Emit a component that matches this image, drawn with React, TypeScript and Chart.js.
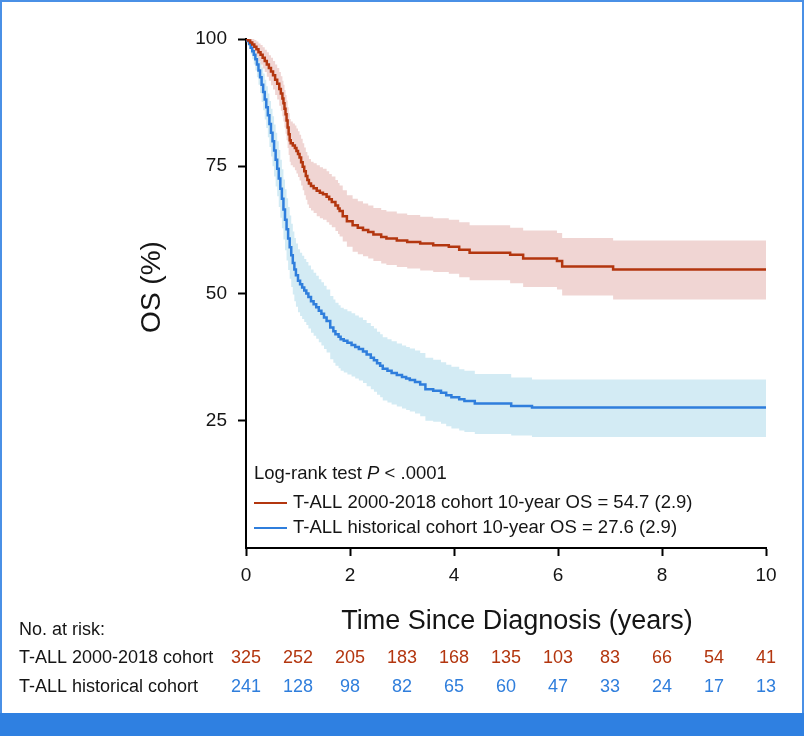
import { useEffect, useRef } from 'react';
import { Chart, registerables } from 'chart.js';

Chart.register(...registerables);

// ---------- data ----------
const atRiskYears = [0, 1, 2, 3, 4, 5, 6, 7, 8, 9, 10];
const recentAtRisk = [325, 252, 205, 183, 168, 135, 103, 83, 66, 54, 41];
const histAtRisk = [241, 128, 98, 82, 65, 60, 47, 33, 24, 17, 13];

const recentLabel = 'T-ALL 2000-2018 cohort';
const histLabel = 'T-ALL historical cohort';
const recentOS = 'T-ALL 2000-2018 cohort 10-year OS = 54.7 (2.9)';
const histOS = 'T-ALL historical cohort 10-year OS = 27.6 (2.9)';
const testLabel = ['Log-rank test ', 'P', ' < .0001'];

const xTitle = 'Time Since Diagnosis (years)';
const yTitle = 'OS (%)';

// T-ALL 2000-2018 cohort: Kaplan-Meier estimate (%) with 95% band
const recentTimes = [0, 0.04, 0.08, 0.12, 0.16, 0.2, 0.24, 0.28, 0.32, 0.36, 0.4, 0.44, 0.48, 0.52, 0.56, 0.6, 0.64, 0.67, 0.7, 0.72, 0.74, 0.76, 0.78, 0.8, 0.82, 0.84, 0.86, 0.9, 0.94, 0.97, 1.0, 1.03, 1.06, 1.09, 1.12, 1.15, 1.18, 1.21, 1.25, 1.3, 1.36, 1.42, 1.48, 1.55, 1.6, 1.65, 1.72, 1.77, 1.8, 1.86, 1.94, 2.05, 2.15, 2.25, 2.35, 2.45, 2.6, 2.7, 2.9, 3.1, 3.35, 3.6, 3.9, 4.1, 4.3, 5.08, 5.33, 5.98, 6.08, 7.06, 10];
const recentSurv = [100, 99.7, 99.3, 98.9, 98.5, 98.0, 97.4, 96.9, 96.3, 95.7, 95.0, 94.3, 93.6, 92.9, 92.0, 91.2, 90.2, 89.3, 88.3, 87.4, 86.3, 85.2, 84.0, 82.6, 81.3, 80.1, 79.5, 79.1, 78.6, 78.0, 77.4, 76.7, 75.8, 74.9, 74.0, 73.1, 72.3, 71.6, 71.1, 70.7, 70.2, 69.8, 69.5, 69.0, 68.5, 68.0, 67.3, 66.7, 66.2, 65.2, 64.2, 63.4, 62.9, 62.5, 62.1, 61.6, 61.1, 60.8, 60.4, 60.1, 59.8, 59.5, 59.2, 58.6, 58.0, 57.6, 56.9, 56.4, 55.3, 54.7, 54.7];
const recentUpper = [100, 100, 100, 100, 99.8, 99.5, 99.1, 98.8, 98.4, 97.9, 97.4, 96.8, 96.3, 95.7, 95.0, 94.3, 93.5, 92.7, 91.8, 91.0, 90.0, 89.0, 87.9, 86.6, 85.4, 84.3, 83.8, 83.4, 83.0, 82.4, 81.9, 81.2, 80.4, 79.5, 78.7, 77.8, 77.1, 76.4, 75.9, 75.6, 75.2, 74.8, 74.5, 74.0, 73.5, 73.0, 72.3, 71.7, 71.2, 70.3, 69.3, 68.6, 68.1, 67.7, 67.3, 66.8, 66.4, 66.1, 65.7, 65.4, 65.1, 64.8, 64.5, 64.0, 63.4, 62.9, 62.4, 61.9, 60.9, 60.4, 60.4];
const recentLower = [100, 99.1, 98.4, 97.8, 97.2, 96.5, 95.7, 95.0, 94.2, 93.5, 92.6, 91.8, 90.9, 90.1, 89.0, 88.1, 86.9, 85.9, 84.8, 83.8, 82.6, 81.4, 80.1, 78.6, 77.2, 75.9, 75.2, 74.8, 74.2, 73.6, 72.9, 72.2, 71.2, 70.3, 69.3, 68.4, 67.5, 66.8, 66.3, 65.8, 65.2, 64.8, 64.5, 64.0, 63.5, 63.0, 62.3, 61.7, 61.2, 60.2, 59.2, 58.2, 57.7, 57.3, 56.9, 56.4, 55.9, 55.6, 55.2, 54.9, 54.5, 54.2, 53.9, 53.2, 52.6, 52.0, 51.3, 50.8, 49.6, 48.8, 48.8];

// T-ALL historical cohort
const histTimes = [0, 0.03, 0.06, 0.09, 0.12, 0.15, 0.18, 0.21, 0.24, 0.27, 0.3, 0.33, 0.36, 0.39, 0.42, 0.45, 0.48, 0.51, 0.54, 0.57, 0.6, 0.63, 0.66, 0.69, 0.72, 0.75, 0.78, 0.81, 0.84, 0.87, 0.9, 0.93, 0.96, 1.0, 1.04, 1.08, 1.12, 1.16, 1.2, 1.25, 1.3, 1.35, 1.4, 1.45, 1.5, 1.55, 1.62, 1.68, 1.72, 1.78, 1.82, 1.88, 1.95, 2.03, 2.1, 2.17, 2.25, 2.32, 2.4, 2.46, 2.52, 2.58, 2.63, 2.72, 2.8, 2.9, 3.0, 3.08, 3.15, 3.25, 3.35, 3.45, 3.6, 3.75, 3.85, 3.95, 4.1, 4.2, 4.4, 5.1, 5.5, 10];
const histSurv = [100, 99.6, 99.0, 98.3, 97.6, 96.9, 96.0, 95.0, 93.8, 92.5, 91.0, 89.6, 88.1, 86.6, 85.0, 83.3, 81.6, 79.9, 78.1, 76.3, 74.5, 72.6, 70.6, 68.6, 66.5, 64.5, 62.6, 60.8, 59.1, 57.5, 56.0, 54.7, 53.6, 52.5, 51.8, 51.2, 50.6, 50.0, 49.3, 48.5, 47.9, 47.3, 46.6, 46.0, 45.3, 44.6, 43.3, 42.6, 42.0, 41.5, 41.0, 40.7, 40.3, 39.9, 39.5, 39.1, 38.6, 38.0, 37.4, 36.9, 36.3, 35.8, 35.2, 34.8, 34.4, 34.0, 33.6, 33.3, 33.0, 32.6, 32.1, 31.2, 30.9, 30.5, 30.0, 29.6, 29.2, 28.9, 28.4, 27.9, 27.6, 27.6];
const histUpper = [100, 100, 99.9, 99.6, 99.2, 98.8, 98.2, 97.5, 96.6, 95.6, 94.4, 93.2, 92.0, 90.7, 89.3, 87.8, 86.3, 84.8, 83.2, 81.6, 79.9, 78.2, 76.3, 74.4, 72.4, 70.5, 68.7, 67.0, 65.3, 63.7, 62.2, 60.9, 59.8, 58.7, 58.0, 57.4, 56.8, 56.2, 55.5, 54.7, 54.1, 53.5, 52.8, 52.2, 51.5, 50.8, 49.5, 48.8, 48.2, 47.7, 47.2, 46.9, 46.5, 46.1, 45.7, 45.3, 44.8, 44.2, 43.6, 43.1, 42.5, 42.0, 41.4, 41.0, 40.6, 40.2, 39.8, 39.5, 39.2, 38.8, 38.3, 37.4, 37.0, 36.5, 36.0, 35.6, 35.1, 34.8, 34.2, 33.5, 33.1, 33.1];
const histLower = [100, 99.1, 98.1, 97.0, 96.0, 95.0, 93.8, 92.5, 91.0, 89.4, 87.6, 86.0, 84.2, 82.5, 80.7, 78.8, 76.9, 75.0, 73.0, 71.0, 69.1, 67.0, 64.9, 62.8, 60.6, 58.5, 56.5, 54.6, 52.9, 51.3, 49.8, 48.5, 47.4, 46.3, 45.6, 45.0, 44.4, 43.8, 43.1, 42.3, 41.7, 41.1, 40.4, 39.8, 39.1, 38.4, 37.1, 36.4, 35.8, 35.3, 34.8, 34.5, 34.1, 33.7, 33.3, 32.9, 32.4, 31.8, 31.2, 30.7, 30.1, 29.6, 29.0, 28.6, 28.2, 27.8, 27.4, 27.1, 26.8, 26.4, 25.9, 25.0, 24.8, 24.4, 23.9, 23.5, 23.1, 22.8, 22.4, 22.1, 21.8, 21.8];

// ---------- styles ----------
const RED = '#B3360F';
const RED_BAND = '#F0D5D3';
const BLUE = '#2F7EDC';
const BLUE_BAND = '#D3EBF4';
const FONT = '"Liberation Sans", Arial, Helvetica, sans-serif';
const TEXT = '#151515';

const pts = (xs: number[], ys: number[]) => xs.map((x, i) => ({ x, y: ys[i] }));

const annotatePlugin = {
  id: 'annotate',
  afterDraw(chart: any) {
    const ctx = chart.ctx as CanvasRenderingContext2D;
    const xs = chart.scales.x;
    ctx.save();
    ctx.textBaseline = 'middle';
    ctx.fillStyle = TEXT;

    // axis titles
    ctx.font = `27px ${FONT}`;
    ctx.textAlign = 'center';
    ctx.fillText(xTitle, 517, 622);
    ctx.save();
    ctx.translate(152, 287);
    ctx.rotate(-Math.PI / 2);
    ctx.font = `28px ${FONT}`;
    ctx.fillText(yTitle, 0, 0);
    ctx.restore();

    // legend block
    const reg = `18.5px ${FONT}`;
    const ita = `italic 18.5px ${FONT}`;
    let lx = 254;
    ctx.font = reg;
    ctx.textAlign = 'left';
    ctx.fillText(testLabel[0], lx, 474);
    lx += ctx.measureText(testLabel[0]).width;
    ctx.font = ita;
    ctx.fillText(testLabel[1], lx, 474);
    lx += ctx.measureText(testLabel[1]).width;
    ctx.font = reg;
    ctx.fillText(testLabel[2], lx, 474);

    const rows: [string, string, number][] = [
      [recentOS, RED, 503],
      [histOS, BLUE, 528],
    ];
    rows.forEach(([txt, col, y]) => {
      ctx.strokeStyle = col;
      ctx.lineWidth = 2;
      ctx.beginPath();
      ctx.moveTo(254, y);
      ctx.lineTo(287, y);
      ctx.stroke();
      ctx.fillStyle = TEXT;
      ctx.fillText(txt, 293, y);
    });

    // number at risk table
    ctx.font = `18px ${FONT}`;
    ctx.fillStyle = TEXT;
    ctx.textAlign = 'left';
    ctx.fillText('No. at risk:', 19, 630);
    ctx.fillText(recentLabel, 19, 658);
    ctx.fillText(histLabel, 19, 687);
    ctx.textAlign = 'center';
    atRiskYears.forEach((yr, i) => {
      const px = xs.getPixelForValue(yr);
      ctx.fillStyle = RED;
      ctx.fillText(String(recentAtRisk[i]), px, 658);
      ctx.fillStyle = BLUE;
      ctx.fillText(String(histAtRisk[i]), px, 687);
    });
    ctx.restore();
  },
};

export default function App() {
  const ref = useRef<HTMLCanvasElement | null>(null);

  useEffect(() => {
    if (!ref.current) return;
    const lineBase = { pointRadius: 0, stepped: 'before' as const, fill: false, borderWidth: 2.5 };
    const bandBase = { pointRadius: 0, stepped: 'before' as const, borderWidth: 0 };
    const chart = new Chart(ref.current, {
      type: 'line',
      data: {
        datasets: [
          { ...lineBase, label: recentLabel, data: pts(recentTimes, recentSurv), borderColor: RED },
          { ...lineBase, label: histLabel, data: pts(histTimes, histSurv), borderColor: BLUE },
          { ...bandBase, label: 'r-up', data: pts(recentTimes, recentUpper), borderColor: RED_BAND, backgroundColor: RED_BAND, fill: '+1' },
          { ...bandBase, label: 'r-lo', data: pts(recentTimes, recentLower), borderColor: RED_BAND, fill: false },
          { ...bandBase, label: 'h-up', data: pts(histTimes, histUpper), borderColor: BLUE_BAND, backgroundColor: BLUE_BAND, fill: '+1' },
          { ...bandBase, label: 'h-lo', data: pts(histTimes, histLower), borderColor: BLUE_BAND, fill: false },
        ],
      },
      options: {
        animation: false,
        responsive: false,
        events: [],
        layout: { padding: { left: 0, right: 38, top: 39, bottom: 0 } },
        plugins: { legend: { display: false }, tooltip: { enabled: false } },
        scales: {
          x: {
            type: 'linear',
            min: 0,
            max: 10,
            afterFit: (s: any) => { s.height = 165; },
            ticks: { stepSize: 2, padding: 8, color: TEXT, font: { family: FONT, size: 19 } },
            grid: { drawOnChartArea: false, drawTicks: true, tickLength: 8, color: '#000', tickWidth: 2 },
            border: { display: true, color: '#000', width: 2 },
            title: { display: false, text: xTitle },
          },
          y: {
            type: 'linear',
            min: 0,
            max: 100,
            afterFit: (s: any) => { s.width = 246; },
            afterBuildTicks: (s: any) => { s.ticks = s.ticks.filter((t: any) => t.value !== 0); },
            ticks: { stepSize: 25, padding: 11, color: TEXT, font: { family: FONT, size: 19 } },
            grid: { drawOnChartArea: false, drawTicks: true, tickLength: 8, color: '#000', tickWidth: 2 },
            border: { display: true, color: '#000', width: 2 },
            title: { display: false, text: yTitle },
          },
        },
      },
      plugins: [annotatePlugin],
    });
    return () => chart.destroy();
  }, []);

  return (
    <div style={{ position: 'absolute', left: 0, top: 0, width: 804, height: 736, background: '#fff', overflow: 'hidden' }}>
      <canvas ref={ref} width={804} height={713} style={{ position: 'absolute', left: 0, top: 0, width: 804, height: 713 }} />
      <div style={{ position: 'absolute', left: 0, top: 0, width: 804, height: 2, background: '#4A90E6' }} />
      <div style={{ position: 'absolute', left: 0, top: 0, width: 2, height: 713, background: '#4A90E6' }} />
      <div style={{ position: 'absolute', right: 0, top: 0, width: 2, height: 713, background: '#4A90E6' }} />
      <div style={{ position: 'absolute', left: 0, top: 713, width: 804, height: 23, background: '#2F80E1' }} />
    </div>
  );
}
